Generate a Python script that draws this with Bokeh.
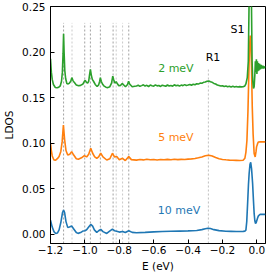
from bokeh.plotting import figure
from bokeh.models import FixedTicker, CustomJSTickFormatter, Range1d
from bokeh.core.properties import value
from bokeh.embed import file_html
from bokeh.resources import INLINE

# ---- data ----
x_ticks = [-1.2, -1.0, -0.8, -0.6, -0.4, -0.2, 0.0]
y_ticks = [0.00, 0.05, 0.10, 0.15, 0.20, 0.25]

# vertical reference lines (energies of features)
lines_dark = [-1.124, -1.001, -0.968, -0.910, -0.836, -0.745]
lines_light = [-1.075, -0.818, -0.781]
line_r1 = [-0.282]

# 10 meV broadening (blue)
e_10 = [-1.2, -1.19, -1.18, -1.17, -1.16, -1.15, -1.14, -1.13, -1.124, -1.118,
        -1.11, -1.10, -1.09, -1.077, -1.065, -1.05, -1.04, -1.025, -1.01, -1.0,
        -0.99, -0.978, -0.966, -0.955, -0.945, -0.931, -0.92, -0.908, -0.895, -0.873,
        -0.86, -0.84, -0.828, -0.815, -0.80, -0.781, -0.765, -0.745, -0.725, -0.70,
        -0.65, -0.60, -0.55, -0.50, -0.45, -0.40, -0.35, -0.32, -0.30, -0.285,
        -0.27, -0.25, -0.22, -0.18, -0.15, -0.12, -0.10, -0.08, -0.07, -0.064,
        -0.059, -0.054, -0.049, -0.045, -0.040, -0.036, -0.031, -0.025, -0.020, -0.016,
        -0.012, -0.008, -0.004, 0.0, 0.004, 0.008, 0.013, 0.019, 0.03, 0.05]
ldos_10 = [0.0156, 0.008, 0.003, 0.001, 0.0015, 0.005, 0.013, 0.024, 0.0266, 0.024,
           0.014, 0.0077, 0.0082, 0.0091, 0.006, 0.002, 0.0011, 0.002, 0.0038, 0.004,
           0.005, 0.008, 0.011, 0.009, 0.005, 0.0022, 0.004, 0.0055, 0.003, 0.001,
           0.003, 0.0058, 0.004, 0.0035, 0.0025, 0.0032, 0.002, 0.004, 0.0022, 0.0018,
           0.0022, 0.0028, 0.0031, 0.0034, 0.0036, 0.0038, 0.0043, 0.0052, 0.0062, 0.0068,
           0.0064, 0.0052, 0.0041, 0.0035, 0.0033, 0.0031, 0.0031, 0.0033, 0.0036, 0.0047,
           0.014, 0.034, 0.055, 0.067, 0.077, 0.079, 0.072, 0.056, 0.037, 0.023,
           0.015, 0.012, 0.013, 0.0156, 0.018, 0.020, 0.021, 0.0219, 0.022, 0.022]

# 5 meV broadening (orange)
e_5 = [-1.2, -1.195, -1.19, -1.18, -1.17, -1.16, -1.15, -1.14, -1.132, -1.125,
       -1.118, -1.11, -1.10, -1.088, -1.077, -1.065, -1.05, -1.038, -1.02, -1.003,
       -0.99, -0.978, -0.966, -0.955, -0.943, -0.931, -0.92, -0.908, -0.895, -0.873,
       -0.855, -0.840, -0.828, -0.815, -0.80, -0.781, -0.765, -0.745, -0.73, -0.70,
       -0.68, -0.66, -0.64, -0.62, -0.60, -0.58, -0.56, -0.54, -0.52, -0.50,
       -0.48, -0.46, -0.44, -0.42, -0.40, -0.38, -0.36, -0.34, -0.32, -0.30,
       -0.28, -0.26, -0.24, -0.22, -0.20, -0.18, -0.16, -0.14, -0.12, -0.10,
       -0.08, -0.07, -0.064, -0.058, -0.052, -0.047, -0.043, -0.039, -0.035, -0.031,
       -0.027, -0.022, -0.016, -0.010, -0.005, -0.002, 0.003, 0.008, 0.02, 0.05]
ldos_5 = [0.0999, 0.092, 0.086, 0.0816, 0.0815, 0.083, 0.0855, 0.091, 0.102, 0.120,
          0.104, 0.092, 0.087, 0.088, 0.0908, 0.087, 0.083, 0.0824, 0.084, 0.0864,
          0.085, 0.088, 0.0944, 0.089, 0.085, 0.0835, 0.085, 0.089, 0.085, 0.0816,
          0.083, 0.089, 0.085, 0.0855, 0.082, 0.0835, 0.081, 0.0853, 0.082, 0.0815,
          0.0821, 0.0817, 0.0824, 0.0819, 0.0822, 0.0816, 0.0821, 0.0818, 0.0823, 0.0819,
          0.0824, 0.0820, 0.0823, 0.0821, 0.0826, 0.0828, 0.0833, 0.0840, 0.0850, 0.0862,
          0.0868, 0.0860, 0.0843, 0.0830, 0.0822, 0.0818, 0.0815, 0.0813, 0.0812, 0.0811,
          0.0813, 0.0835, 0.090, 0.103, 0.135, 0.175, 0.205, 0.218, 0.210, 0.180,
          0.140, 0.110, 0.0886, 0.085, 0.091, 0.096, 0.099, 0.1013, 0.1015, 0.1015]

# 2 meV broadening (green)
e_2 = [-1.2, -1.195, -1.19, -1.183, -1.172, -1.162, -1.152, -1.143, -1.136, -1.131,
       -1.127, -1.124, -1.121, -1.117, -1.112, -1.105, -1.097, -1.09, -1.082, -1.076,
       -1.070, -1.061, -1.05, -1.036, -1.025, -1.011, -1.003, -0.998, -0.99, -0.984,
       -0.978, -0.973, -0.968, -0.963, -0.957, -0.950, -0.94, -0.929, -0.920, -0.914,
       -0.910, -0.905, -0.898, -0.89, -0.878, -0.867, -0.855, -0.845, -0.838, -0.833,
       -0.826, -0.818, -0.812, -0.803, -0.792, -0.783, -0.777, -0.764, -0.752, -0.746,
       -0.740, -0.725, -0.71,
       -0.70, -0.69, -0.68, -0.67, -0.66, -0.65, -0.64, -0.63, -0.62, -0.61,
       -0.60, -0.59, -0.58, -0.57, -0.56, -0.55, -0.54, -0.53, -0.52, -0.51,
       -0.50, -0.49, -0.48, -0.47, -0.46, -0.45, -0.44, -0.43, -0.42, -0.41,
       -0.40, -0.39, -0.38, -0.37, -0.36, -0.35, -0.34, -0.33, -0.32, -0.31,
       -0.30, -0.29, -0.28, -0.27, -0.26, -0.25, -0.24, -0.23, -0.22, -0.21,
       -0.20, -0.19, -0.18, -0.17, -0.16, -0.15, -0.14, -0.13, -0.12, -0.11,
       -0.10, -0.09, -0.08, -0.07, -0.064, -0.056, -0.050, -0.045, -0.038, -0.032,
       -0.028, -0.024, -0.020, -0.016, -0.012, -0.009, -0.006, -0.003, 0.0, 0.003,
       0.006, 0.009, 0.012, 0.016, 0.020, 0.025, 0.030, 0.035, 0.040, 0.045, 0.05]
ldos_2 = [0.1925, 0.178, 0.170, 0.1644, 0.1612, 0.1608, 0.1615, 0.163, 0.168, 0.178,
          0.198, 0.220, 0.200, 0.180, 0.171, 0.1655, 0.165, 0.166, 0.168, 0.172,
          0.169, 0.1665, 0.164, 0.163, 0.1635, 0.165, 0.168, 0.169, 0.1665, 0.166,
          0.168, 0.175, 0.181, 0.175, 0.170, 0.168, 0.1645, 0.1623, 0.164, 0.168,
          0.172, 0.168, 0.165, 0.163, 0.1615, 0.161, 0.162, 0.166, 0.1735, 0.170,
          0.166, 0.1675, 0.1655, 0.163, 0.1635, 0.1655, 0.1645, 0.162, 0.1645, 0.168,
          0.165, 0.162, 0.1625,
          0.1628, 0.1636, 0.1624, 0.1632, 0.1641, 0.1627, 0.1635, 0.1622, 0.1638, 0.1630,
          0.1626, 0.1640, 0.1629, 0.1634, 0.1623, 0.1637, 0.1631, 0.1625, 0.1639, 0.1628,
          0.1633, 0.1626, 0.1641, 0.1630, 0.1636, 0.1627, 0.1638, 0.1632, 0.1643, 0.1634,
          0.1639, 0.1645, 0.1636, 0.1648, 0.1642, 0.1652, 0.1649, 0.1660, 0.1658, 0.1668,
          0.1672, 0.1680, 0.1683, 0.1674, 0.1668, 0.1656, 0.1650, 0.1639, 0.1634, 0.1628,
          0.1631, 0.1622, 0.1627, 0.1619, 0.1625, 0.1618, 0.1624, 0.1617, 0.1622, 0.1616,
          0.1621, 0.1618, 0.1620, 0.1628, 0.165, 0.172, 0.190, 0.260, 0.330, 0.260,
          0.190, 0.168, 0.160, 0.162, 0.175, 0.190, 0.178, 0.192, 0.176, 0.190,
          0.179, 0.188, 0.180, 0.187, 0.181, 0.186, 0.182, 0.185, 0.182, 0.184, 0.183]

BLUE, ORANGE, GREEN = "#1f77b4", "#ff7f0e", "#2ca02c"
FONT = "DejaVu Sans"

p = figure(width=280, height=280, output_backend="svg", toolbar_location=None,
           x_range=Range1d(-1.2, 0.05), y_range=Range1d(-0.01, 0.25),
           min_border_left=50, min_border_right=15, min_border_top=6,
           min_border_bottom=37)
p.background_fill_color = "white"
p.border_fill_color = "white"
p.outline_line_color = "black"
p.outline_line_width = 1
p.outline_line_alpha = 1.0
p.xgrid.visible = False
p.ygrid.visible = False

p.xaxis.ticker = FixedTicker(ticks=x_ticks)
p.yaxis.ticker = FixedTicker(ticks=y_ticks)
p.xaxis.formatter = CustomJSTickFormatter(code="return tick.toFixed(1).replace('-', '\u2212');")
p.yaxis.formatter = CustomJSTickFormatter(code="return tick.toFixed(2).replace('-', '\u2212');")
p.xaxis.axis_label = "E (eV)"
p.yaxis.axis_label = "LDOS"
for ax in (p.xaxis[0], p.yaxis[0]):
    ax.major_tick_in = 4
    ax.major_tick_out = 0
    ax.minor_tick_in = 0
    ax.minor_tick_out = 0
    ax.major_tick_line_color = "black"
    ax.axis_line_color = "black"
    ax.major_label_text_font = FONT
    ax.major_label_text_font_size = "10.5px"
    ax.major_label_text_color = "black"
    ax.axis_label_text_font = FONT
    ax.axis_label_text_font_size = "10.5px"
    ax.axis_label_text_font_style = "normal"
    ax.axis_label_text_color = "black"
p.xaxis.major_label_standoff = 2
p.xaxis.axis_label_standoff = 3
p.yaxis.major_label_standoff = 5
p.yaxis.axis_label_standoff = 4

# vertical dashed reference lines
p.segment(x0=lines_dark, y0=-0.01, x1=lines_dark, y1=0.232,
          line_color="#8a8a8a", line_width=0.8, line_dash="2 2")
p.segment(x0=lines_light, y0=-0.01, x1=lines_light, y1=0.232,
          line_color="#bdbdbd", line_width=0.8, line_dash="2 2")
p.segment(x0=line_r1, y0=-0.01, x1=line_r1, y1=0.1825,
          line_color="#b0b0b0", line_width=0.8, line_dash="2 2")

# spectra
p.line(e_10, ldos_10, line_color=BLUE, line_width=1.6)
p.line(e_5, ldos_5, line_color=ORANGE, line_width=1.6)
p.line(e_2, ldos_2, line_color=GREEN, line_width=1.6)

# annotations
p.text(x=[-0.471], y=[0.1816], text=["2 meV"], text_color=GREEN,
       text_font=value(FONT), text_font_size="11px", text_align="center",
       text_baseline="middle")
p.text(x=[-0.471], y=[0.1065], text=["5 meV"], text_color=ORANGE,
       text_font=value(FONT), text_font_size="11px", text_align="center",
       text_baseline="middle")
p.text(x=[-0.453], y=[0.0266], text=["10 meV"], text_color=BLUE,
       text_font=value(FONT), text_font_size="11px", text_align="center",
       text_baseline="middle")
p.text(x=[-0.255], y=[0.1943], text=["R1"], text_color="black",
       text_font=value(FONT), text_font_size="11px", text_align="center",
       text_baseline="middle")
p.text(x=[-0.1125], y=[0.2243], text=["S1"], text_color="black",
       text_font=value(FONT), text_font_size="11px", text_align="center",
       text_baseline="middle")

open("out.html", "w").write(file_html(p, INLINE))
